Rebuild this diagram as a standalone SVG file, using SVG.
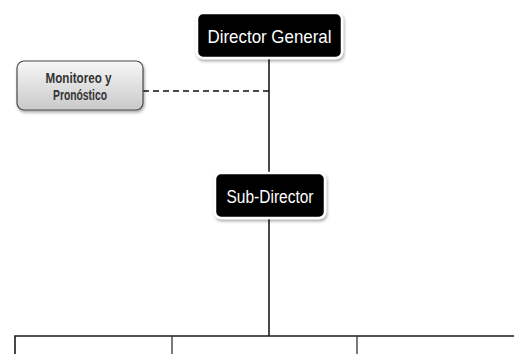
<svg xmlns="http://www.w3.org/2000/svg" width="514" height="354" viewBox="0 0 514 354">
  <defs>
    <linearGradient id="softGray" x1="0" y1="0" x2="0" y2="1">
      <stop offset="0" stop-color="#f7f7f7"/>
      <stop offset="1" stop-color="#c9c9c9"/>
    </linearGradient>
    <filter id="shadow" x="-10%" y="-20%" width="120%" height="150%">
      <feDropShadow dx="1" dy="2" stdDeviation="1.5" flood-color="#000" flood-opacity="0.35"/>
    </filter>
  </defs>
  <style>
    .bg { fill: #ffffff; }
    .line { stroke: #1a1a1a; stroke-width: 1.6; fill: none; }
    .thin { stroke: #333333; stroke-width: 1.3; fill: none; }
    .dash { stroke: #111111; stroke-width: 1.6; stroke-dasharray: 6 4; fill: none; }
    .dark { fill: #000000; stroke: #ffffff; stroke-width: 2.5; filter: url(#shadow); }
    .light { fill: url(#softGray); stroke: #4a4a4a; stroke-width: 1.2; filter: url(#shadow); }
    .wtext { font-family: "Liberation Sans", Arial, sans-serif; fill: #ffffff; text-anchor: middle; }
    .gtext { font-family: "Liberation Sans", Arial, sans-serif; font-weight: bold; font-size: 14px; fill: #333333; text-anchor: middle; }
  </style>

  <rect class="bg" x="0" y="0" width="514" height="354"/>

  <!-- connectors -->
  <g id="connectors">
    <line class="line" x1="269" y1="58" x2="269" y2="174"/>
    <line class="dash" x1="143" y1="91" x2="269" y2="91"/>
    <line class="line" x1="269" y1="218" x2="269" y2="336"/>
    <path class="line" d="M15 354 V336 H514"/>
    <line class="thin" x1="172" y1="336" x2="172" y2="354"/>
    <line class="thin" x1="357" y1="336" x2="357" y2="354"/>
  </g>

  <!-- Director General -->
  <g id="director-general">
    <rect class="dark" x="197" y="13" width="145" height="45" rx="6"/>
    <text class="wtext" x="269.5" y="43" font-size="19" textLength="124" lengthAdjust="spacingAndGlyphs">Director General</text>
  </g>

  <!-- Monitoreo y Pronóstico -->
  <g id="monitoreo">
    <rect class="light" x="17" y="61" width="126" height="49" rx="7"/>
    <text class="gtext" x="78.5" y="83" textLength="66" lengthAdjust="spacingAndGlyphs">Monitoreo y</text>
    <text class="gtext" x="80" y="100" textLength="54" lengthAdjust="spacingAndGlyphs">Pronóstico</text>
  </g>

  <!-- Sub-Director -->
  <g id="sub-director">
    <rect class="dark" x="215" y="173" width="110" height="45" rx="6"/>
    <text class="wtext" x="270" y="203" font-size="18" textLength="87" lengthAdjust="spacingAndGlyphs">Sub-Director</text>
  </g>
</svg>
